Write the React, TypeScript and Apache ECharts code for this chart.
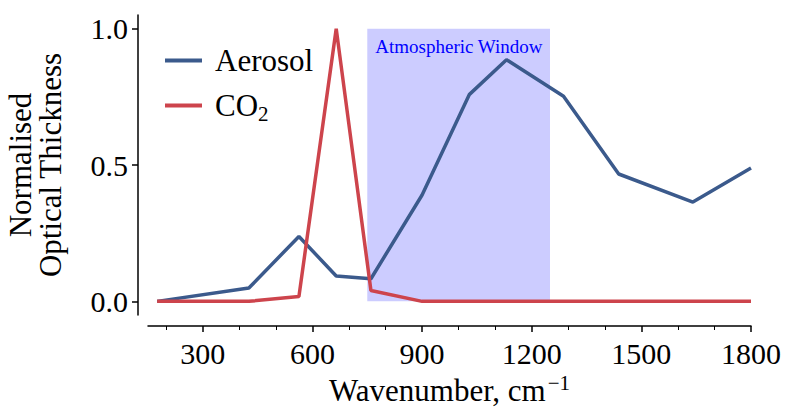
import React, { useEffect, useRef } from "react";
import * as echarts from "echarts";

const wavenumbers = [175, 426, 563, 665, 760, 900, 1029, 1131, 1287, 1438, 1641, 1800];
const aerosol = [0.0, 0.049, 0.238, 0.093, 0.083, 0.39, 0.758, 0.886, 0.752, 0.467, 0.364, 0.489];
const co2 = [0, 0, 0.018, 1.0, 0.04, 0, 0, 0, 0, 0, 0, 0];
const xMajorTicks = [300, 600, 900, 1200, 1500, 1800];
const xMinorTicks = [200, 400, 500, 700, 800, 1000, 1100, 1300, 1400, 1600, 1700];
const yTicks = [0, 0.5, 1.0];
const windowRange = [750, 1250];
const windowLabel = "Atmospheric Window";

const FONT = "'Liberation Serif', 'Times New Roman', serif";
const BLUE = "#3b5a8c";
const RED = "#cd444c";

export default function App() {
  const ref = useRef<HTMLDivElement>(null);
  useEffect(() => {
    if (!ref.current) return;
    const chart = echarts.init(ref.current, undefined, { renderer: "svg" });
    const axisLineStyle = { color: "#000", width: 1.5 };
    const option = {
      animation: false,
      grid: { left: 148, right: 34, top: 15, bottom: 92, containLabel: false, outerBoundsMode: "none" },
      legend: {
        data: ["Aerosol", "CO2"],
        orient: "vertical",
        left: 160,
        top: 40,
        itemWidth: 37,
        itemHeight: 4,
        itemGap: 14,
        icon: "rect",
        formatter: (name: string) => (name === "CO2" ? "CO{sub|2}" : name),
        textStyle: {
          fontSize: 31,
          fontFamily: FONT,
          color: "#000",
          padding: [0, 0, 0, 8],
          rich: {
            sub: { fontSize: 21, fontFamily: FONT, color: "#000", padding: [16, 0, 0, 0] },
          },
        },
      },
      xAxis: [
        {
          type: "value",
          min: 150,
          max: 1800,
          position: "bottom",
          offset: 11,
          axisLine: { show: true, onZero: false, lineStyle: axisLineStyle },
          axisTick: { show: true, customValues: xMajorTicks, length: 6, lineStyle: axisLineStyle },
          axisLabel: {
            customValues: xMajorTicks,
            formatter: (v: number) => String(v),
            fontSize: 30,
            fontFamily: FONT,
            color: "#000",
            margin: 12,
          },
          splitLine: { show: false },
          name: "Wavenumber, cm{sup|−1}",
          nameLocation: "middle",
          nameGap: 46,
          nameTextStyle: {
            fontSize: 31,
            fontFamily: FONT,
            color: "#000",
            rich: {
              sup: { fontSize: 21, fontFamily: FONT, color: "#000", padding: [0, 0, 14, 2] },
            },
          },
        },
        {
          type: "value",
          min: 150,
          max: 1800,
          position: "bottom",
          offset: 11,
          axisLine: { show: false, onZero: false },
          axisTick: { show: true, customValues: xMinorTicks, length: 4, lineStyle: { color: "#000", width: 1 } },
          axisLabel: { show: false },
          splitLine: { show: false },
        },
      ],
      yAxis: {
        type: "value",
        min: -0.05,
        max: 1.05,
        position: "left",
        offset: 10,
        axisLine: { show: true, onZero: false, lineStyle: axisLineStyle },
        axisTick: { show: true, customValues: yTicks, length: 6, lineStyle: axisLineStyle },
        axisLabel: {
          customValues: yTicks,
          formatter: (v: number) => v.toFixed(1),
          fontSize: 30,
          fontFamily: FONT,
          color: "#000",
          margin: 10,
        },
        splitLine: { show: false },
        name: "Normalised\nOptical Thickness",
        nameLocation: "middle",
        nameRotate: 90,
        nameGap: 73,
        nameTextStyle: { fontSize: 31, fontFamily: FONT, color: "#000", lineHeight: 30 },
      },
      series: [
        {
          name: "window",
          type: "line",
          data: wavenumbers.map((w, i) => [w, co2[i]]),
          showSymbol: false,
          symbol: "none",
          silent: true,
          z: 1,
          lineStyle: { opacity: 0 },
          markArea: {
            silent: true,
            itemStyle: { color: "rgba(0,0,255,0.2)" },
            label: {
              show: true,
              position: "insideTopLeft",
              distance: 8,
              color: "#0000ff",
              fontSize: 19,
              fontFamily: FONT,
            },
            data: [
              [
                { name: windowLabel, xAxis: windowRange[0], yAxis: 0 },
                { xAxis: windowRange[1], yAxis: 1 },
              ],
            ],
          },
        },
        {
          name: "Aerosol",
          type: "line",
          data: wavenumbers.map((w, i) => [w, aerosol[i]]),
          showSymbol: false,
          symbol: "none",
          z: 3,
          lineStyle: { color: BLUE, width: 3.5 },
          itemStyle: { color: BLUE },
        },
        {
          name: "CO2",
          type: "line",
          data: wavenumbers.map((w, i) => [w, co2[i]]),
          showSymbol: false,
          symbol: "none",
          z: 4,
          lineStyle: { color: RED, width: 3.5 },
          itemStyle: { color: RED },
        },
      ],
    };
    chart.setOption(option as any);
    return () => chart.dispose();
  }, []);
  return (
    <div
      ref={ref}
      style={{ position: "fixed", left: 0, top: 0, width: 785, height: 407, background: "#fff" }}
    />
  );
}
